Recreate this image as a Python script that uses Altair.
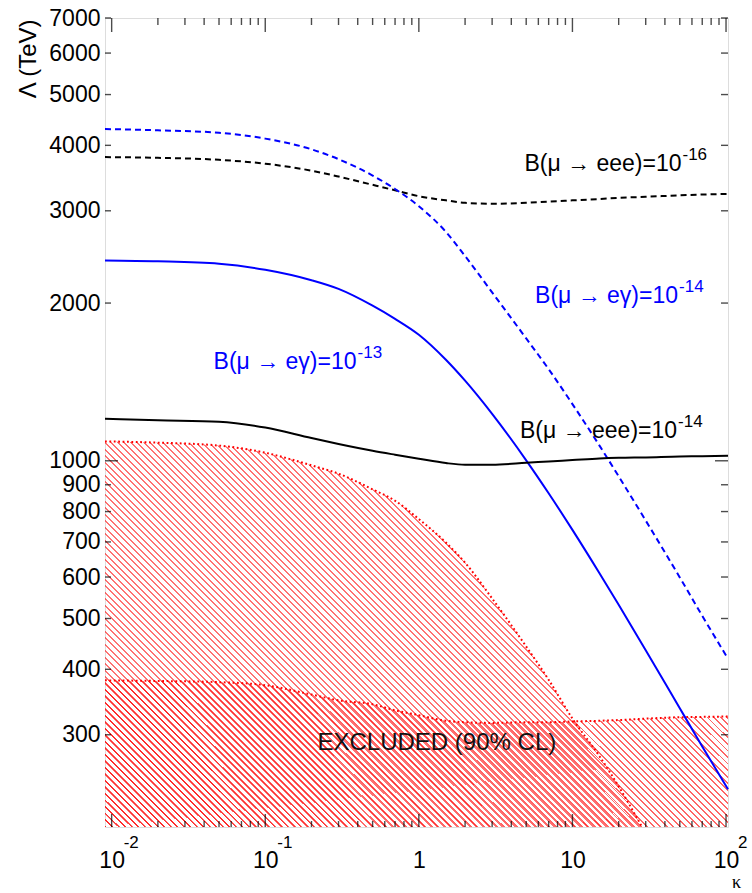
import math
import altair as alt
import pandas as pd

# ---------------- data ----------------
kappa = [0.00905, 0.02, 0.05, 0.1, 0.2, 0.3, 0.5, 0.7, 1, 1.5, 2, 3, 5, 7,
         10, 15, 20, 30, 50, 70, 103]

meg_1e14 = [4297, 4273, 4227, 4120, 3931, 3764, 3503, 3302, 3061, 2735, 2459,
            2096, 1712, 1496, 1283, 1069, 934, 769, 599, 506, 419]
eee_1e16 = [3799, 3786, 3753, 3690, 3578, 3487, 3363, 3283, 3199, 3141, 3107,
            3094, 3107, 3124, 3141, 3160, 3176, 3190, 3211, 3222, 3232]
meg_1e13 = [2412, 2403, 2377, 2315, 2211, 2128, 1977, 1866, 1740, 1559, 1422,
            1229, 1002, 867, 738, 610, 531, 435, 337, 285, 236]
eee_1e14 = [1203, 1195, 1187, 1157, 1105, 1077, 1045, 1027, 1009, 990, 983,
            983, 991, 997, 1003, 1010, 1013, 1015, 1019, 1020, 1022]

meg_excl_kappa = [0.00905, 0.02, 0.05, 0.1, 0.2, 0.3, 0.5, 0.7, 1, 1.5, 2, 3,
                  5, 7, 10, 15, 20, 28.4]
meg_excl = [1089, 1083, 1069, 1036, 980, 945, 882, 839, 774, 698, 639, 546,
            442, 382, 322, 273, 239, 200]
eee_excl = [381, 380, 378, 373, 358, 349, 343, 334, 327, 319, 317, 316, 317,
            317, 318, 319, 320, 322, 324, 324.5, 325]

ann_text = ["B(μ → eee)=10", "B(μ → eγ)=10", "B(μ → eγ)=10", "B(μ → eee)=10"]
ann_sup = ["-16", "-14", "-13", "-14"]
ann_kappa = [51.3, 48.7, 0.393, 48.0]
ann_lam = [3581, 2002, 1496, 1105]
ann_color = ["#000000", "#0000ff", "#0000ff", "#000000"]

excl_text = ["EXCLUDED (90% CL)"]
excl_kappa = [1.31]
excl_lam = [281]

x_major = [0.01, 0.1, 1, 10, 100]
x_sup_kappa = [0.01, 0.1, 100]
x_sup_text = ["-2", "-1", "2"]
y_labels = [300, 400, 500, 600, 700, 800, 900, 1000, 2000, 3000, 4000, 5000,
            6000, 7000]

# ---------------- styles ----------------
FONT = "Liberation Sans"
PW, PH = 623, 809
BLUE = "#0000ff"
RED = "#ff0000"

xscale = alt.Scale(type="log", domain=[0.00905, 103], nice=False)
yscale = alt.Scale(type="log", domain=[200, 7000], nice=False)

x_minor = [m * d for d in [0.01, 0.1, 1, 10] for m in range(2, 10)]
y_minor = [v for v in y_labels if v != 1000]
y_major = [1000]


def hatch(bw, bh, spacing, frac, color, clear):
    n = int(round((bw + bh) / (spacing * math.sqrt(2))))
    c = (bw + bh) / (bw * bw + bh * bh)
    stops = []
    for i in range(n):
        a, b, e = i / n, (i + frac) / n, (i + 1) / n
        stops += [alt.GradientStop(color=color, offset=a),
                  alt.GradientStop(color=color, offset=b),
                  alt.GradientStop(color=clear, offset=b),
                  alt.GradientStop(color=clear, offset=e)]
    return alt.LinearGradient(gradient="linear", stops=stops,
                              x1=0, y1=1, x2=c * bw, y2=1 - c * bh)


x_label_axis = alt.Axis(
    orient="bottom", values=x_major, ticks=False, tickSize=0, domain=False,
    grid=False, labelExpr="datum.value == 1 ? '1' : '10'", labelFontSize=23,
    labelFont=FONT, labelColor="black", labelPadding=22, labelFlush=False,
    labelOverlap=False, labelBound=False,
    title="κ", titleFont="Liberation Serif", titleFontSize=18,
    titleFontWeight="normal", titleX=631, titleY=55, titleAlign="center",
    titleBaseline="middle", titleColor="black")

y_label_axis = alt.Axis(
    orient="left", values=y_labels, ticks=False, tickSize=0, domain=False,
    grid=False, format="d", labelFontSize=23, labelFont=FONT,
    labelColor="black", labelPadding=5, labelFlush=False, labelOverlap=False,
    labelBound=False,
    title="Λ (TeV)", titleFont=FONT, titleFontSize=24, titleFontWeight="normal",
    titleAngle=270, titleX=-77, titleY=1, titleAlign="right",
    titleBaseline="middle", titleColor="black")

X = alt.X("kappa:Q", scale=xscale)
Y = alt.Y("lam:Q", scale=yscale)


def frame(k, v):
    return pd.DataFrame({"kappa": k, "lam": v})


# hatched exclusion regions (this layer carries the axes)
lower_area = alt.Chart(frame(kappa, eee_excl)).mark_area(
    fill=hatch(623, 147, 4.6, 0.3, "rgba(255,0,0,0.6)", "rgba(255,0,0,0)"),
    fillOpacity=1, interpolate="monotone"
).encode(x=alt.X("kappa:Q", scale=xscale, axis=x_label_axis),
         y=alt.Y("lam:Q", scale=yscale, axis=y_label_axis),
         y2=alt.datum(200))

upper_area = alt.Chart(frame(meg_excl_kappa, meg_excl)).mark_area(
    fill=hatch(537, 386, 4.6, 0.3, "rgba(255,0,0,0.55)", "rgba(255,0,0,0)"),
    fillOpacity=1, interpolate="monotone"
).encode(x=X, y=Y, y2=alt.datum(200))

dot = dict(color=RED, strokeWidth=2, strokeDash=[1.8, 2.6],
           interpolate="monotone")
upper_line = alt.Chart(frame(meg_excl_kappa, meg_excl)).mark_line(**dot).encode(
    x=X, y=Y)
lower_line = alt.Chart(frame(kappa, eee_excl)).mark_line(**dot).encode(
    x=X, y=Y)

# curves
c_eee16 = alt.Chart(frame(kappa, eee_1e16)).mark_line(
    color="black", strokeWidth=2, strokeDash=[6, 4], interpolate="monotone"
).encode(x=X, y=Y)
c_meg14 = alt.Chart(frame(kappa, meg_1e14)).mark_line(
    color=BLUE, strokeWidth=2, strokeDash=[6, 4], interpolate="monotone"
).encode(x=X, y=Y)
c_meg13 = alt.Chart(frame(kappa, meg_1e13)).mark_line(
    color=BLUE, strokeWidth=2, interpolate="monotone"
).encode(x=X, y=Y)
c_eee14 = alt.Chart(frame(kappa, eee_1e14)).mark_line(
    color="black", strokeWidth=2, interpolate="monotone"
).encode(x=X, y=Y)


# inward tick marks: tick marks on the frame, shifted inward by half length
def xticks(values, length, side):
    df = pd.DataFrame({"kappa": values})
    shift = length / 2 if side == "top" else -length / 2
    return alt.Chart(df).mark_tick(
        color="black", thickness=1.4, size=length, orient="vertical",
        yOffset=shift
    ).encode(x=X, y=alt.value(0 if side == "top" else PH))


def yticks(values, length, side):
    df = pd.DataFrame({"lam": values})
    shift = length / 2 if side == "left" else -length / 2
    return alt.Chart(df).mark_tick(
        color="black", thickness=1.4, size=length, orient="horizontal",
        xOffset=shift
    ).encode(y=Y, x=alt.value(0 if side == "left" else PW))


ticks = [
    xticks(x_major, 13, "bottom"), xticks(x_minor, 6, "bottom"),
    xticks(x_major, 14, "top"), xticks(x_minor, 7, "top"),
    yticks(y_minor, 6, "left"), yticks(y_major, 13, "left"),
    yticks(y_minor, 7, "right"), yticks(y_major, 13, "right"),
]

# annotations
ann = pd.DataFrame({"kappa": ann_kappa, "lam": ann_lam, "txt": ann_text,
                    "sup": ann_sup, "col": ann_color})
ann_base = alt.Chart(ann).mark_text(
    align="right", baseline="alphabetic", fontSize=23, font=FONT
).encode(x=X, y=Y, text="txt:N", color=alt.Color("col:N", scale=None))
ann_supt = alt.Chart(ann).mark_text(
    align="left", baseline="alphabetic", fontSize=17, font=FONT, dx=1, dy=-11
).encode(x=X, y=Y, text="sup:N", color=alt.Color("col:N", scale=None))

excl = alt.Chart(pd.DataFrame({"kappa": excl_kappa, "lam": excl_lam,
                               "txt": excl_text})).mark_text(
    align="center", baseline="alphabetic", fontSize=24, font=FONT,
    color="#111111"
).encode(x=X, y=Y, text="txt:N")

xsup = alt.Chart(pd.DataFrame({"kappa": x_sup_kappa, "txt": x_sup_text})
                 ).mark_text(align="left", baseline="middle", fontSize=17,
                             font=FONT, dx=12, color="black").encode(
    x=X, y=alt.value(PH + 16), text="txt:N")

chart = alt.layer(
    lower_area, upper_area, upper_line, lower_line,
    c_eee16, c_meg14, c_meg13, c_eee14,
    *ticks,
    ann_base, ann_supt, excl, xsup
).properties(
    width=PW, height=PH,
    autosize=alt.AutoSizeParams(type="none"),
    padding={"left": 105, "top": 18, "right": 24, "bottom": 66},
).configure_view(stroke="black", strokeWidth=1.5).configure(font=FONT)

chart.save("out.html", embed_options={"renderer": "svg", "actions": False})
